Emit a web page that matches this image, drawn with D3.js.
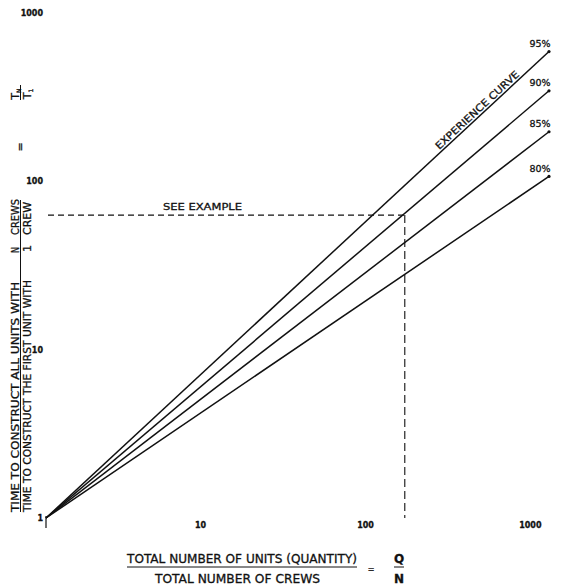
<!DOCTYPE html>
<html>
<head>
<meta charset="utf-8">
<script src="https://cdn.jsdelivr.net/npm/d3@7"></script>
<style>
  html, body { margin: 0; padding: 0; background: #fff; }
  svg { display: block; background: #fff; }
  text { font-family: "DejaVu Sans", sans-serif; fill: #111; stroke: #111; stroke-width: 0.3px; }
</style>
</head>
<body>
<svg id="chart"></svg>
<script>
// Experience curves (log-log): total time with N crews vs units per crew
const QN_RANGE = [1, 1000];
const RATES = ["95%", "90%", "85%", "80%"];
const START_VALUES = [1, 1, 1, 1];
const END_VALUES = [590, 345, 197, 107];
const X_TICKS = [10, 100, 1000];
const Y_TICKS = [1, 10, 100, 1000];
const EXAMPLE_QN = 138;
const EXAMPLE_T = 63;

const width = 564, height = 585;

const svg = d3.select("#chart")
  .attr("width", width)
  .attr("height", height);

// Scales (square decades)
const x = d3.scaleLog().domain([1, 1000]).range([46, 549]);
const y = d3.scaleLog().domain([1, 1000]).range([518, 13]);

// Build series from the arrays
const series = RATES.map((r, i) => ({
  rate: r,
  points: [
    { q: QN_RANGE[0], t: START_VALUES[i] },
    { q: QN_RANGE[1], t: END_VALUES[i] }
  ]
}));

// Axes: labels only, no domain line
const xAxis = svg.append("g")
  .attr("transform", `translate(0, ${y(1) + 1})`)
  .call(d3.axisBottom(x).tickValues(X_TICKS).tickSize(0).tickPadding(3).tickFormat(d3.format("d")));
xAxis.select(".domain").remove();
xAxis.attr("font-family", null).attr("font-size", null);
xAxis.selectAll("text")
  .attr("text-anchor", "end")
  .attr("dx", -8)
  .style("font-size", "8px")
  .style("font-weight", "bold");

const yAxis = svg.append("g")
  .attr("transform", `translate(${x(1) - 1}, 0)`)
  .call(d3.axisLeft(y).tickValues(Y_TICKS).tickSize(0).tickPadding(2).tickFormat(d3.format("d")));
yAxis.select(".domain").remove();
yAxis.attr("font-family", null).attr("font-size", null);
yAxis.selectAll("text")
  .style("font-size", "8px")
  .style("font-weight", "bold");

// small tick under the origin
svg.append("line")
  .attr("x1", x(1)).attr("x2", x(1))
  .attr("y1", y(1) - 2).attr("y2", y(1) + 10)
  .attr("stroke", "#111")
  .attr("stroke-width", 1.2);

// Example dashed guide lines
svg.append("line")
  .attr("x1", x(1) + 2).attr("x2", x(EXAMPLE_QN))
  .attr("y1", y(EXAMPLE_T)).attr("y2", y(EXAMPLE_T))
  .attr("stroke", "#111")
  .attr("stroke-width", 1.1)
  .attr("stroke-dasharray", "6,4");

svg.append("line")
  .attr("x1", x(EXAMPLE_QN)).attr("x2", x(EXAMPLE_QN))
  .attr("y1", y(EXAMPLE_T)).attr("y2", y(1))
  .attr("stroke", "#111")
  .attr("stroke-width", 1.1)
  .attr("stroke-dasharray", "8,4");

svg.append("text")
  .attr("x", 163)
  .attr("y", y(EXAMPLE_T) - 5.5)
  .attr("textLength", 79)
  .attr("lengthAdjust", "spacingAndGlyphs")
  .style("font-size", "9.5px")
  .text("SEE EXAMPLE");

// Experience curves
const line = d3.line()
  .x(d => x(d.q))
  .y(d => y(d.t));

svg.selectAll("path.curve")
  .data(series)
  .enter()
  .append("path")
    .attr("class", "curve")
    .attr("d", d => line(d.points))
    .attr("fill", "none")
    .attr("stroke", "#111")
    .attr("stroke-width", 1.5);

svg.selectAll("circle.end")
  .data(series)
  .enter()
  .append("circle")
    .attr("class", "end")
    .attr("cx", d => x(d.points[1].q))
    .attr("cy", d => y(d.points[1].t))
    .attr("r", 1.6)
    .attr("fill", "#111");

svg.selectAll("text.rate")
  .data(series)
  .enter()
  .append("text")
    .attr("class", "rate")
    .attr("x", d => x(d.points[1].q) - 9)
    .attr("y", d => y(d.points[1].t) - 4.5)
    .attr("text-anchor", "middle")
    .style("font-size", "9.5px")
    .text(d => d.rate);

// "EXPERIENCE CURVE" along the top curve
const topPts = series[0].points;
const p0 = [x(topPts[0].q), y(topPts[0].t)];
const p1 = [x(topPts[1].q), y(topPts[1].t)];
const angle = Math.atan2(p1[1] - p0[1], p1[0] - p0[0]) * 180 / Math.PI;
const tPos = 0.785;
const lx = p0[0] + (p1[0] - p0[0]) * tPos;
const ly = p0[1] + (p1[1] - p0[1]) * tPos;
svg.append("text")
  .attr("transform", `translate(${lx}, ${ly}) rotate(${angle})`)
  .attr("y", -2.5)
  .attr("textLength", 110)
  .attr("lengthAdjust", "spacingAndGlyphs")
  .style("font-size", "10px")
  .text("EXPERIENCE CURVE");

// Y title (rotated fraction)
const yt = svg.append("g")
  .attr("transform", `translate(20, ${y(1)}) rotate(-90)`);

function rtext(g, str, rx, ry, len, size) {
  const t = g.append("text")
    .attr("x", rx)
    .attr("y", ry)
    .style("font-size", (size || 11) + "px")
    .text(str);
  if (len) t.attr("textLength", len).attr("lengthAdjust", "spacingAndGlyphs");
  return t;
}

rtext(yt, "TIME TO CONSTRUCT ALL UNITS WITH", 6, -1.5, 230);
rtext(yt, "N", 265, -1.5, 6);
rtext(yt, "CREWS", 283, -1.5, 36);
rtext(yt, "TIME TO CONSTRUCT THE FIRST UNIT WITH", 6, 10.5, 232);
rtext(yt, "1", 266, 10.5);
rtext(yt, "CREW", 283, 10.5, 33);
yt.append("line")
  .attr("x1", 6).attr("x2", 318)
  .attr("y1", 0.5).attr("y2", 0.5)
  .attr("stroke", "#111")
  .attr("stroke-width", 1);

rtext(yt, "=", 371, 3.5, null, 11).attr("text-anchor", "middle");

const tn = rtext(yt, "T", 424, -1.5, null, 11).attr("text-anchor", "middle");
tn.append("tspan").attr("dy", 2).style("font-size", "6px").text("N");
yt.append("line")
  .attr("x1", 418).attr("x2", 433)
  .attr("y1", 0.5).attr("y2", 0.5)
  .attr("stroke", "#111")
  .attr("stroke-width", 1);
const t1 = rtext(yt, "T", 424, 11, null, 11).attr("text-anchor", "middle");
t1.append("tspan").attr("dy", 2).style("font-size", "6px").text("1");

// X title (fraction)
svg.append("text")
  .attr("x", 127).attr("y", 563)
  .attr("textLength", 230)
  .attr("lengthAdjust", "spacingAndGlyphs")
  .style("font-size", "12px")
  .text("TOTAL NUMBER OF UNITS (QUANTITY)");
svg.append("line")
  .attr("x1", 127).attr("x2", 357)
  .attr("y1", 567).attr("y2", 567)
  .attr("stroke", "#111")
  .attr("stroke-width", 1);
svg.append("text")
  .attr("x", 155).attr("y", 583)
  .attr("textLength", 165)
  .attr("lengthAdjust", "spacingAndGlyphs")
  .style("font-size", "12px")
  .text("TOTAL NUMBER OF CREWS");

svg.append("text")
  .attr("x", 371).attr("y", 572)
  .attr("text-anchor", "middle")
  .style("font-size", "8px")
  .text("=");

svg.append("text")
  .attr("x", 399).attr("y", 563)
  .attr("text-anchor", "middle")
  .style("font-size", "12px")
  .style("font-weight", "bold")
  .text("Q");
svg.append("line")
  .attr("x1", 394).attr("x2", 404)
  .attr("y1", 567).attr("y2", 567)
  .attr("stroke", "#111")
  .attr("stroke-width", 1);
svg.append("text")
  .attr("x", 399).attr("y", 583)
  .attr("text-anchor", "middle")
  .style("font-size", "12px")
  .style("font-weight", "bold")
  .text("N");
</script>
</body>
</html>
